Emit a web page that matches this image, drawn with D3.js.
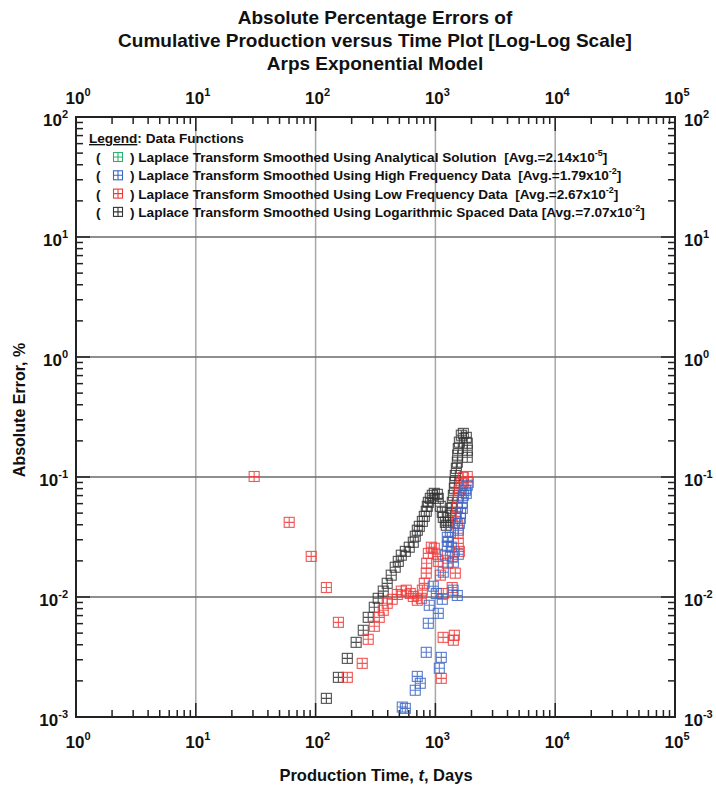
<!DOCTYPE html>
<html>
<head>
<meta charset="utf-8">
<script src="https://cdn.jsdelivr.net/npm/d3@7"></script>
<style>
  body { margin: 0; background: #fff; }
  text { font-family: "Liberation Sans", Arial, sans-serif; font-weight: bold; fill: #111; white-space: pre; }
</style>
</head>
<body>
<svg id="chart" width="716" height="786"></svg>
<script>
'use strict';

// Production time (days) and absolute error (%)
var blackDays = [123, 155, 184, 218, 250, 275, 309, 333, 367, 396, 428, 462, 490, 519, 561, 605, 654, 679, 706, 734,
    778, 808, 839, 856, 873, 907, 942, 979, 1038, 1057, 1099, 1142, 1164, 1211, 1233, 1282, 1333, 1358, 1384, 1412,
    1439, 1452, 1466, 1496, 1524, 1535, 1553, 1585, 1645, 1710, 1812, 1845, 1845, 1845];
var blackErr = [0.00143, 0.00214, 0.00308, 0.00419, 0.00528, 0.00677, 0.00821, 0.00975, 0.0112, 0.0130, 0.0152, 0.0177,
    0.0198, 0.0223, 0.0240, 0.0260, 0.0286, 0.0321, 0.0360, 0.0388, 0.0427, 0.0470, 0.0518, 0.0570, 0.0615, 0.0664,
    0.0704, 0.0731, 0.0717, 0.0664, 0.0570, 0.0508, 0.0461, 0.0419, 0.0396, 0.0419, 0.0480, 0.0548, 0.0615, 0.0704,
    0.0805, 0.0903, 0.103, 0.118, 0.133, 0.152, 0.173, 0.195, 0.223, 0.231, 0.214, 0.191, 0.167, 0.146];

var redDays = [30.7, 60.2, 91.9, 123, 155, 184, 245, 275, 309, 340, 367, 396, 436, 481, 519, 571, 617, 654, 706, 763,
    778, 808, 839, 845, 873, 925, 979, 1038, 1057, 1099, 1120, 1164, 1160, 1257, 1384, 1380, 1412, 1439, 1466, 1553,
    1548, 1524, 1496, 1524, 1553, 1585, 1645, 1710, 1845, 1883, 1585];
var redErr = [0.101, 0.0419, 0.0218, 0.0120, 0.00615, 0.00214, 0.00280, 0.00444, 0.00570, 0.00677, 0.00775, 0.00886,
    0.00957, 0.0105, 0.0112, 0.0114, 0.0107, 0.0101, 0.00939, 0.00975, 0.0114, 0.0130, 0.0158, 0.0191, 0.0231, 0.0260,
    0.0255, 0.0227, 0.0198, 0.0152, 0.00210, 0.0107, 0.00461, 0.0191, 0.0218, 0.0120, 0.00436, 0.00480, 0.0158, 0.0280,
    0.0340, 0.0411, 0.0470, 0.0559, 0.0677, 0.0775, 0.0886, 0.0994, 0.101, 0.0903, 0.0240];

var blueDays = [529, 561, 679, 748, 706, 839, 873, 889, 960, 1018, 1057, 1078, 1120, 1142, 1164, 1211, 1412, 1405,
    1524, 1553, 1358, 1257, 1282, 1257, 1333, 1553, 1585, 1615, 1620, 1677, 1677, 1710, 1778, 1845, 1812];
var blueErr = [0.00121, 0.00118, 0.00167, 0.00191, 0.00218, 0.00346, 0.00604, 0.00853, 0.0123, 0.0107, 0.00731,
    0.00255, 0.00314, 0.00957, 0.0161, 0.0223, 0.0195, 0.0114, 0.0103, 0.0227, 0.0260, 0.0265, 0.0291, 0.0314, 0.0346,
    0.0360, 0.0411, 0.0452, 0.0498, 0.0548, 0.0615, 0.0704, 0.0775, 0.0853, 0.0731];

// analytical solution errors all fall below the 10^-3 floor of the plot
var greenDays = [];
var greenErr = [];

var seriesNames = [
    'Laplace Transform Smoothed Using Analytical Solution',
    'Laplace Transform Smoothed Using High Frequency Data',
    'Laplace Transform Smoothed Using Low Frequency Data',
    'Laplace Transform Smoothed Using Logarithmic Spaced Data'
];
var seriesAvg = ['2.14', '1.79', '2.67', '7.07'];
var seriesAvgExp = ['-5', '-2', '-2', '-2'];
var seriesColors = ['#2faf6f', '#3b66c6', '#f03a3a', '#333333'];

var titleLines = ['Absolute Percentage Errors of', 'Cumulative Production versus Time Plot [Log-Log Scale]', 'Arps Exponential Model'];
var xExponents = [0, 1, 2, 3, 4, 5];
var yExponents = [-3, -2, -1, 0, 1, 2];

var svg = d3.select('#chart');
var plot = {left: 76, right: 675, top: 117, bottom: 717};

var x = d3.scaleLog().domain([1, 1e5]).range([plot.left, plot.right]);
var y = d3.scaleLog().domain([1e-3, 1e2]).range([plot.bottom, plot.top]);

// title
svg.append('g').selectAll('text')
    .data(titleLines)
    .enter().append('text')
    .attr('x', 375)
    .attr('y', function(d, i) { return 24 + i * 23; })
    .attr('text-anchor', 'middle')
    .style('font-size', '19px')
    .text(function(d) { return d; });

// grid
var majorX = xExponents.map(function(e) { return Math.pow(10, e); });
var majorY = yExponents.map(function(e) { return Math.pow(10, e); });

svg.append('g').selectAll('line')
    .data(majorX.slice(1, -1))
    .enter().append('line')
    .attr('x1', function(d) { return x(d); }).attr('x2', function(d) { return x(d); })
    .attr('y1', plot.top).attr('y2', plot.bottom)
    .attr('stroke', '#a8a8a8').attr('stroke-width', 1.5);

svg.append('g').selectAll('line')
    .data(majorY.slice(1, -1))
    .enter().append('line')
    .attr('y1', function(d) { return y(d); }).attr('y2', function(d) { return y(d); })
    .attr('x1', plot.left).attr('x2', plot.right)
    .attr('stroke', '#6a6a6a').attr('stroke-width', 1.3);

// minor + major ticks, all pointing into the plot
var minorX = [], minorY = [];
majorX.slice(0, -1).forEach(function(m) { for (var k = 2; k < 10; k++) minorX.push(m * k); });
majorY.slice(0, -1).forEach(function(m) { for (var k = 2; k < 10; k++) minorY.push(m * k); });

var ticks = svg.append('g').attr('stroke', '#222').attr('stroke-width', 1.5);
function tickLen(d) { return majorX.indexOf(d) >= 0 || majorY.indexOf(d) >= 0 ? 14 : 7; }

ticks.selectAll('.bx').data(majorX.concat(minorX)).enter().append('line')
    .attr('x1', function(d) { return x(d); }).attr('x2', function(d) { return x(d); })
    .attr('y1', plot.bottom).attr('y2', function(d) { return plot.bottom - tickLen(d); });
ticks.selectAll('.tx').data(majorX.concat(minorX)).enter().append('line')
    .attr('x1', function(d) { return x(d); }).attr('x2', function(d) { return x(d); })
    .attr('y1', plot.top).attr('y2', function(d) { return plot.top + tickLen(d); });
ticks.selectAll('.ly').data(majorY.concat(minorY)).enter().append('line')
    .attr('y1', function(d) { return y(d); }).attr('y2', function(d) { return y(d); })
    .attr('x1', plot.left).attr('x2', function(d) { return plot.left + tickLen(d); });
ticks.selectAll('.ry').data(majorY.concat(minorY)).enter().append('line')
    .attr('y1', function(d) { return y(d); }).attr('y2', function(d) { return y(d); })
    .attr('x1', plot.right).attr('x2', function(d) { return plot.right - tickLen(d); });

svg.append('rect')
    .attr('x', plot.left).attr('y', plot.top)
    .attr('width', plot.right - plot.left).attr('height', plot.bottom - plot.top)
    .attr('fill', 'none').attr('stroke', '#222').attr('stroke-width', 2);

// power-of-ten labels
function powerLabel(g, px, py, exp, anchor) {
    var t = g.append('text')
        .attr('x', px).attr('y', py)
        .attr('text-anchor', anchor)
        .style('font-size', '17px');
    t.append('tspan').text('10');
    t.append('tspan').attr('dy', -8).style('font-size', '11px').text(exp);
}

var labels = svg.append('g');
xExponents.forEach(function(e) {
    powerLabel(labels, x(Math.pow(10, e)) + 2, 748, e, 'middle');
    powerLabel(labels, x(Math.pow(10, e)) + 2, 104, e, 'middle');
});
yExponents.forEach(function(e) {
    powerLabel(labels, 68, y(Math.pow(10, e)) + 9, e, 'end');
    powerLabel(labels, 684, y(Math.pow(10, e)) + 9, e, 'start');
});

// axis titles
var xTitle = svg.append('text')
    .attr('x', 376).attr('y', 781)
    .attr('text-anchor', 'middle')
    .style('font-size', '16.5px');
xTitle.append('tspan').text('Production Time, ');
xTitle.append('tspan').style('font-style', 'italic').text('t');
xTitle.append('tspan').text(', Days');

svg.append('text')
    .attr('transform', 'translate(25,410) rotate(-90)')
    .attr('text-anchor', 'middle')
    .style('font-size', '16px')
    .text('Absolute Error, %');

// markers
function marker(g, color, size) {
    var h = size / 2;
    g.append('rect').attr('x', -h).attr('y', -h).attr('width', size).attr('height', size);
    g.append('path').attr('d', 'M0,' + (-h) + 'V' + h + 'M' + (-h) + ',0H' + h);
    g.attr('fill', 'none').attr('stroke', color).attr('stroke-width', 1.1);
}

var series = [
    {days: greenDays, err: greenErr, color: seriesColors[0]},
    {days: blueDays, err: blueErr, color: seriesColors[1]},
    {days: redDays, err: redErr, color: seriesColors[2]},
    {days: blackDays, err: blackErr, color: seriesColors[3]}
];

svg.append('clipPath').attr('id', 'clip').append('rect')
    .attr('x', plot.left).attr('y', plot.top)
    .attr('width', plot.right - plot.left).attr('height', plot.bottom - plot.top);

var points = svg.append('g').attr('clip-path', 'url(#clip)');
[series[3], series[2], series[1], series[0]].forEach(function(s) {
    points.append('g').selectAll('g')
        .data(d3.range(s.days.length))
        .enter().append('g')
        .attr('opacity', 0.85)
        .attr('transform', function(i) { return 'translate(' + x(s.days[i]) + ',' + y(s.err[i]) + ')'; })
        .each(function() { marker(d3.select(this), s.color, 10); });
});

// legend
var legend = svg.append('g');
var head = legend.append('text').attr('x', 89).attr('y', 143).style('font-size', '13.6px');
head.append('tspan').style('text-decoration', 'underline').text('Legend');
head.append('tspan').text(': Data Functions');

seriesNames.forEach(function(name, i) {
    var ly = 162 + i * 18.3;
    legend.append('text').attr('x', 96).attr('y', ly).style('font-size', '13.6px').text('(');
    var m = legend.append('g').attr('transform', 'translate(118,' + (ly - 5) + ')');
    marker(m, seriesColors[i], 9);
    var t = legend.append('text').attr('x', 130).attr('y', ly).style('font-size', '13.6px');
    t.append('tspan').text(') ' + name + (i === 3 ? ' ' : '  ') + '[Avg.=' + seriesAvg[i] + 'x10');
    t.append('tspan').attr('dy', -6).style('font-size', '9px').text(seriesAvgExp[i]);
    t.append('tspan').attr('dy', 6).text(']');
});
</script>
</body>
</html>
